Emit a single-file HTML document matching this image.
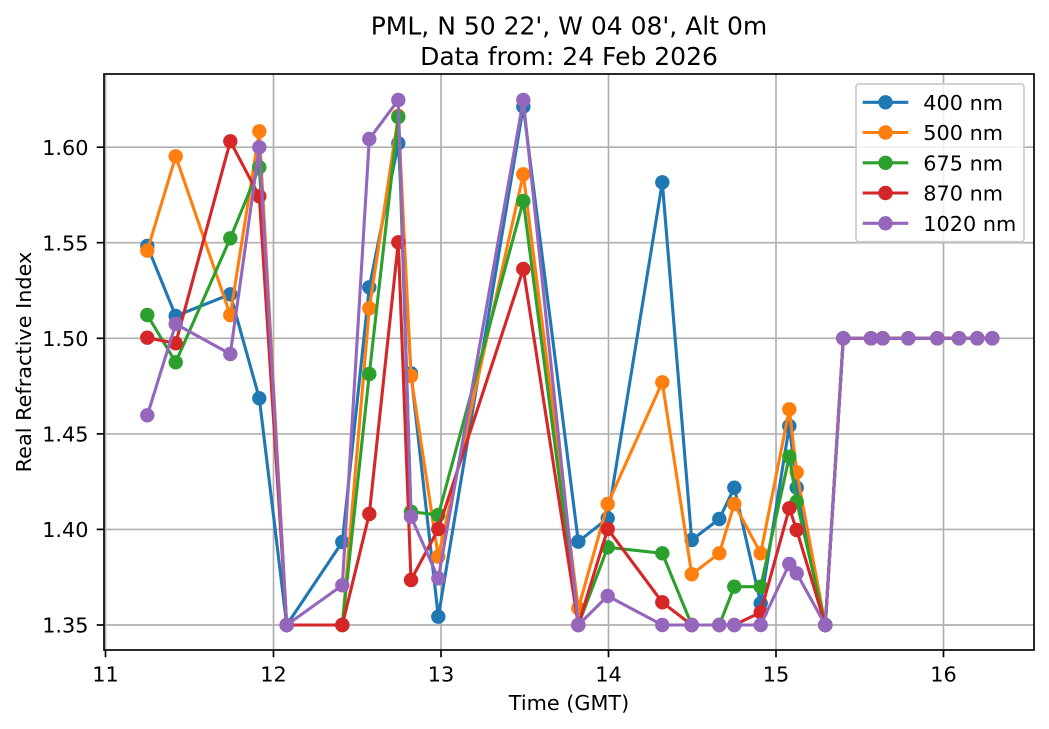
<!DOCTYPE html>
<html>
<head>
<meta charset="utf-8">
<style>
  html, body { margin: 0; padding: 0; background: #ffffff; }
  svg { display: block; }
  text { font-family: "DejaVu Sans", "Liberation Sans", sans-serif; fill: #000; }
</style>
</head>
<body>
<svg width="1049" height="729" viewBox="0 0 1049 729" xmlns="http://www.w3.org/2000/svg">
  <rect x="0" y="0" width="1049" height="729" fill="#ffffff"/>

  <!-- Grid -->
  <g stroke="#b0b0b0" stroke-width="1.67" fill="none">
    <line x1="105.5" y1="74" x2="105.5" y2="650"/>
    <line x1="273.5" y1="74" x2="273.5" y2="650"/>
    <line x1="441" y1="74" x2="441" y2="650"/>
    <line x1="608.5" y1="74" x2="608.5" y2="650"/>
    <line x1="776" y1="74" x2="776" y2="650"/>
    <line x1="943.5" y1="74" x2="943.5" y2="650"/>
    <line x1="104" y1="625" x2="1034" y2="625"/>
    <line x1="104" y1="529.4" x2="1034" y2="529.4"/>
    <line x1="104" y1="433.9" x2="1034" y2="433.9"/>
    <line x1="104" y1="338.3" x2="1034" y2="338.3"/>
    <line x1="104" y1="242.7" x2="1034" y2="242.7"/>
    <line x1="104" y1="147.2" x2="1034" y2="147.2"/>
  </g>

  <!-- Series: 400 nm -->
  <g fill="#1f77b4" stroke="#1f77b4">
    <polyline fill="none" stroke-width="3.1" stroke-linejoin="round" points="147.3,246 175.7,316 230.3,294.3 259.3,398.3 286.7,625 342.3,542 369.3,287.3 398.3,143.3 411,373.3 438.3,616.7 523.3,106.7 578.3,541.7 607.7,518.3 662.3,182.3 691.7,540 719.3,519 734.3,487.7 760.7,603.3 789.3,426 796.7,487.7 825.3,625 843.3,338.3 871,338.3 882.7,338.3 908.3,338.3 937.3,338.3 959,338.3 977.3,338.3 992.3,338.3"/>
    <g stroke="none">
      <circle cx="147.3" cy="246" r="7.2"/><circle cx="175.7" cy="316" r="7.2"/><circle cx="230.3" cy="294.3" r="7.2"/><circle cx="259.3" cy="398.3" r="7.2"/><circle cx="286.7" cy="625" r="7.2"/><circle cx="342.3" cy="542" r="7.2"/><circle cx="369.3" cy="287.3" r="7.2"/><circle cx="398.3" cy="143.3" r="7.2"/><circle cx="411" cy="373.3" r="7.2"/><circle cx="438.3" cy="616.7" r="7.2"/><circle cx="523.3" cy="106.7" r="7.2"/><circle cx="578.3" cy="541.7" r="7.2"/><circle cx="607.7" cy="518.3" r="7.2"/><circle cx="662.3" cy="182.3" r="7.2"/><circle cx="691.7" cy="540" r="7.2"/><circle cx="719.3" cy="519" r="7.2"/><circle cx="734.3" cy="487.7" r="7.2"/><circle cx="760.7" cy="603.3" r="7.2"/><circle cx="789.3" cy="426" r="7.2"/><circle cx="796.7" cy="487.7" r="7.2"/><circle cx="825.3" cy="625" r="7.2"/><circle cx="843.3" cy="338.3" r="7.2"/><circle cx="871" cy="338.3" r="7.2"/><circle cx="882.7" cy="338.3" r="7.2"/><circle cx="908.3" cy="338.3" r="7.2"/><circle cx="937.3" cy="338.3" r="7.2"/><circle cx="959" cy="338.3" r="7.2"/><circle cx="977.3" cy="338.3" r="7.2"/><circle cx="992.3" cy="338.3" r="7.2"/>
    </g>
  </g>

  <!-- Series: 500 nm -->
  <g fill="#ff7f0e" stroke="#ff7f0e">
    <polyline fill="none" stroke-width="3.1" stroke-linejoin="round" points="147.3,250.7 175.7,156.3 230.3,315 259.3,131.3 286.7,625 342.3,625 369.3,308.3 398.3,116 411,376 438.3,556.7 523.3,174.3 578.3,608.3 607.7,504 662.3,382.3 691.7,574.3 719.3,553.3 734.3,504 760.7,553.3 789.3,409.3 796.7,472.3 825.3,625 843.3,338.3 871,338.3 882.7,338.3 908.3,338.3 937.3,338.3 959,338.3 977.3,338.3 992.3,338.3"/>
    <g stroke="none">
      <circle cx="147.3" cy="250.7" r="7.2"/><circle cx="175.7" cy="156.3" r="7.2"/><circle cx="230.3" cy="315" r="7.2"/><circle cx="259.3" cy="131.3" r="7.2"/><circle cx="286.7" cy="625" r="7.2"/><circle cx="342.3" cy="625" r="7.2"/><circle cx="369.3" cy="308.3" r="7.2"/><circle cx="398.3" cy="116" r="7.2"/><circle cx="411" cy="376" r="7.2"/><circle cx="438.3" cy="556.7" r="7.2"/><circle cx="523.3" cy="174.3" r="7.2"/><circle cx="578.3" cy="608.3" r="7.2"/><circle cx="607.7" cy="504" r="7.2"/><circle cx="662.3" cy="382.3" r="7.2"/><circle cx="691.7" cy="574.3" r="7.2"/><circle cx="719.3" cy="553.3" r="7.2"/><circle cx="734.3" cy="504" r="7.2"/><circle cx="760.7" cy="553.3" r="7.2"/><circle cx="789.3" cy="409.3" r="7.2"/><circle cx="796.7" cy="472.3" r="7.2"/><circle cx="825.3" cy="625" r="7.2"/><circle cx="843.3" cy="338.3" r="7.2"/><circle cx="871" cy="338.3" r="7.2"/><circle cx="882.7" cy="338.3" r="7.2"/><circle cx="908.3" cy="338.3" r="7.2"/><circle cx="937.3" cy="338.3" r="7.2"/><circle cx="959" cy="338.3" r="7.2"/><circle cx="977.3" cy="338.3" r="7.2"/><circle cx="992.3" cy="338.3" r="7.2"/>
    </g>
  </g>

  <!-- Series: 675 nm -->
  <g fill="#2ca02c" stroke="#2ca02c">
    <polyline fill="none" stroke-width="3.1" stroke-linejoin="round" points="147.3,315 175.7,362.3 230.3,238.3 259.3,167.3 286.7,625 342.3,625 369.3,374 398.3,117 411,511.7 438.3,515 523.3,201 578.3,625 607.7,547.3 662.3,553.3 691.7,625 719.3,625 734.3,586.7 760.7,586.7 789.3,456.7 796.7,501.7 825.3,625 843.3,338.3 871,338.3 882.7,338.3 908.3,338.3 937.3,338.3 959,338.3 977.3,338.3 992.3,338.3"/>
    <g stroke="none">
      <circle cx="147.3" cy="315" r="7.2"/><circle cx="175.7" cy="362.3" r="7.2"/><circle cx="230.3" cy="238.3" r="7.2"/><circle cx="259.3" cy="167.3" r="7.2"/><circle cx="286.7" cy="625" r="7.2"/><circle cx="342.3" cy="625" r="7.2"/><circle cx="369.3" cy="374" r="7.2"/><circle cx="398.3" cy="117" r="7.2"/><circle cx="411" cy="511.7" r="7.2"/><circle cx="438.3" cy="515" r="7.2"/><circle cx="523.3" cy="201" r="7.2"/><circle cx="578.3" cy="625" r="7.2"/><circle cx="607.7" cy="547.3" r="7.2"/><circle cx="662.3" cy="553.3" r="7.2"/><circle cx="691.7" cy="625" r="7.2"/><circle cx="719.3" cy="625" r="7.2"/><circle cx="734.3" cy="586.7" r="7.2"/><circle cx="760.7" cy="586.7" r="7.2"/><circle cx="789.3" cy="456.7" r="7.2"/><circle cx="796.7" cy="501.7" r="7.2"/><circle cx="825.3" cy="625" r="7.2"/><circle cx="843.3" cy="338.3" r="7.2"/><circle cx="871" cy="338.3" r="7.2"/><circle cx="882.7" cy="338.3" r="7.2"/><circle cx="908.3" cy="338.3" r="7.2"/><circle cx="937.3" cy="338.3" r="7.2"/><circle cx="959" cy="338.3" r="7.2"/><circle cx="977.3" cy="338.3" r="7.2"/><circle cx="992.3" cy="338.3" r="7.2"/>
    </g>
  </g>

  <!-- Series: 870 nm -->
  <g fill="#d62728" stroke="#d62728">
    <polyline fill="none" stroke-width="3.1" stroke-linejoin="round" points="147.3,337.7 175.7,343.3 230.3,141.3 259.3,196.3 286.7,625 342.3,625 369.3,514 398.3,242.3 411,580 438.3,529 523.3,269 578.3,625 607.7,529 662.3,602.3 691.7,625 719.3,625 734.3,625 760.7,612.3 789.3,508.3 796.7,530 825.3,625 843.3,338.3 871,338.3 882.7,338.3 908.3,338.3 937.3,338.3 959,338.3 977.3,338.3 992.3,338.3"/>
    <g stroke="none">
      <circle cx="147.3" cy="337.7" r="7.2"/><circle cx="175.7" cy="343.3" r="7.2"/><circle cx="230.3" cy="141.3" r="7.2"/><circle cx="259.3" cy="196.3" r="7.2"/><circle cx="286.7" cy="625" r="7.2"/><circle cx="342.3" cy="625" r="7.2"/><circle cx="369.3" cy="514" r="7.2"/><circle cx="398.3" cy="242.3" r="7.2"/><circle cx="411" cy="580" r="7.2"/><circle cx="438.3" cy="529" r="7.2"/><circle cx="523.3" cy="269" r="7.2"/><circle cx="578.3" cy="625" r="7.2"/><circle cx="607.7" cy="529" r="7.2"/><circle cx="662.3" cy="602.3" r="7.2"/><circle cx="691.7" cy="625" r="7.2"/><circle cx="719.3" cy="625" r="7.2"/><circle cx="734.3" cy="625" r="7.2"/><circle cx="760.7" cy="612.3" r="7.2"/><circle cx="789.3" cy="508.3" r="7.2"/><circle cx="796.7" cy="530" r="7.2"/><circle cx="825.3" cy="625" r="7.2"/><circle cx="843.3" cy="338.3" r="7.2"/><circle cx="871" cy="338.3" r="7.2"/><circle cx="882.7" cy="338.3" r="7.2"/><circle cx="908.3" cy="338.3" r="7.2"/><circle cx="937.3" cy="338.3" r="7.2"/><circle cx="959" cy="338.3" r="7.2"/><circle cx="977.3" cy="338.3" r="7.2"/><circle cx="992.3" cy="338.3" r="7.2"/>
    </g>
  </g>

  <!-- Series: 1020 nm -->
  <g fill="#9467bd" stroke="#9467bd">
    <polyline fill="none" stroke-width="3.1" stroke-linejoin="round" points="147.3,415.3 175.7,324 230.3,354 259.3,147.3 286.7,625 342.3,585.3 369.3,139 398.3,100 411,516.7 438.3,578.3 523.3,100 578.3,625 607.7,596 662.3,625 691.7,625 719.3,625 734.3,625 760.7,625 789.3,564 796.7,573.3 825.3,625 843.3,338.3 871,338.3 882.7,338.3 908.3,338.3 937.3,338.3 959,338.3 977.3,338.3 992.3,338.3"/>
    <g stroke="none">
      <circle cx="147.3" cy="415.3" r="7.2"/><circle cx="175.7" cy="324" r="7.2"/><circle cx="230.3" cy="354" r="7.2"/><circle cx="259.3" cy="147.3" r="7.2"/><circle cx="286.7" cy="625" r="7.2"/><circle cx="342.3" cy="585.3" r="7.2"/><circle cx="369.3" cy="139" r="7.2"/><circle cx="398.3" cy="100" r="7.2"/><circle cx="411" cy="516.7" r="7.2"/><circle cx="438.3" cy="578.3" r="7.2"/><circle cx="523.3" cy="100" r="7.2"/><circle cx="578.3" cy="625" r="7.2"/><circle cx="607.7" cy="596" r="7.2"/><circle cx="662.3" cy="625" r="7.2"/><circle cx="691.7" cy="625" r="7.2"/><circle cx="719.3" cy="625" r="7.2"/><circle cx="734.3" cy="625" r="7.2"/><circle cx="760.7" cy="625" r="7.2"/><circle cx="789.3" cy="564" r="7.2"/><circle cx="796.7" cy="573.3" r="7.2"/><circle cx="825.3" cy="625" r="7.2"/><circle cx="843.3" cy="338.3" r="7.2"/><circle cx="871" cy="338.3" r="7.2"/><circle cx="882.7" cy="338.3" r="7.2"/><circle cx="908.3" cy="338.3" r="7.2"/><circle cx="937.3" cy="338.3" r="7.2"/><circle cx="959" cy="338.3" r="7.2"/><circle cx="977.3" cy="338.3" r="7.2"/><circle cx="992.3" cy="338.3" r="7.2"/>
    </g>
  </g>

  <!-- Spines -->
  <rect x="104" y="74" width="930" height="576" fill="none" stroke="#000" stroke-width="1.67"/>

  <!-- Ticks -->
  <g stroke="#000" stroke-width="1.67">
    <line x1="105.5" y1="650" x2="105.5" y2="657.3"/>
    <line x1="273.5" y1="650" x2="273.5" y2="657.3"/>
    <line x1="441" y1="650" x2="441" y2="657.3"/>
    <line x1="608.5" y1="650" x2="608.5" y2="657.3"/>
    <line x1="776" y1="650" x2="776" y2="657.3"/>
    <line x1="943.5" y1="650" x2="943.5" y2="657.3"/>
    <line x1="96.7" y1="625" x2="104" y2="625"/>
    <line x1="96.7" y1="529.4" x2="104" y2="529.4"/>
    <line x1="96.7" y1="433.9" x2="104" y2="433.9"/>
    <line x1="96.7" y1="338.3" x2="104" y2="338.3"/>
    <line x1="96.7" y1="242.7" x2="104" y2="242.7"/>
    <line x1="96.7" y1="147.2" x2="104" y2="147.2"/>
  </g>

  <!-- X tick labels -->
  <g font-size="20.8" text-anchor="middle">
    <text x="105.5" y="681.7">11</text>
    <text x="273.5" y="681.7">12</text>
    <text x="441" y="681.7">13</text>
    <text x="608.5" y="681.7">14</text>
    <text x="776" y="681.7">15</text>
    <text x="943.5" y="681.7">16</text>
  </g>

  <!-- Y tick labels -->
  <g font-size="20.8" text-anchor="end">
    <text x="88.5" y="632.6">1.35</text>
    <text x="88.5" y="537">1.40</text>
    <text x="88.5" y="441.5">1.45</text>
    <text x="88.5" y="345.9">1.50</text>
    <text x="88.5" y="250.3">1.55</text>
    <text x="88.5" y="154.8">1.60</text>
  </g>

  <!-- Axis labels -->
  <text x="569" y="710" font-size="20.8" text-anchor="middle">Time (GMT)</text>
  <text transform="translate(31,362) rotate(-90)" font-size="20.8" text-anchor="middle">Real Refractive Index</text>

  <!-- Title -->
  <text x="569" y="34.3" font-size="25" text-anchor="middle">PML, N 50 22', W 04 08', Alt 0m</text>
  <text x="569" y="65" font-size="25" text-anchor="middle">Data from: 24 Feb 2026</text>

  <!-- Legend -->
  <rect x="856" y="84" width="168" height="157.7" rx="3" ry="3" fill="#ffffff" fill-opacity="0.8" stroke="#cccccc" stroke-width="1.67"/>
  <g stroke-width="3.1">
    <line x1="862.7" y1="102.3" x2="908.3" y2="102.3" stroke="#1f77b4"/>
    <circle cx="885.5" cy="102.3" r="7.2" fill="#1f77b4"/>
    <line x1="862.7" y1="132.5" x2="908.3" y2="132.5" stroke="#ff7f0e"/>
    <circle cx="885.5" cy="132.5" r="7.2" fill="#ff7f0e"/>
    <line x1="862.7" y1="162.8" x2="908.3" y2="162.8" stroke="#2ca02c"/>
    <circle cx="885.5" cy="162.8" r="7.2" fill="#2ca02c"/>
    <line x1="862.7" y1="193" x2="908.3" y2="193" stroke="#d62728"/>
    <circle cx="885.5" cy="193" r="7.2" fill="#d62728"/>
    <line x1="862.7" y1="223.3" x2="908.3" y2="223.3" stroke="#9467bd"/>
    <circle cx="885.5" cy="223.3" r="7.2" fill="#9467bd"/>
  </g>
  <g font-size="20.8">
    <text x="923.3" y="109.9">400 nm</text>
    <text x="923.3" y="140.1">500 nm</text>
    <text x="923.3" y="170.4">675 nm</text>
    <text x="923.3" y="200.6">870 nm</text>
    <text x="923.3" y="230.9">1020 nm</text>
  </g>
</svg>
</body>
</html>
